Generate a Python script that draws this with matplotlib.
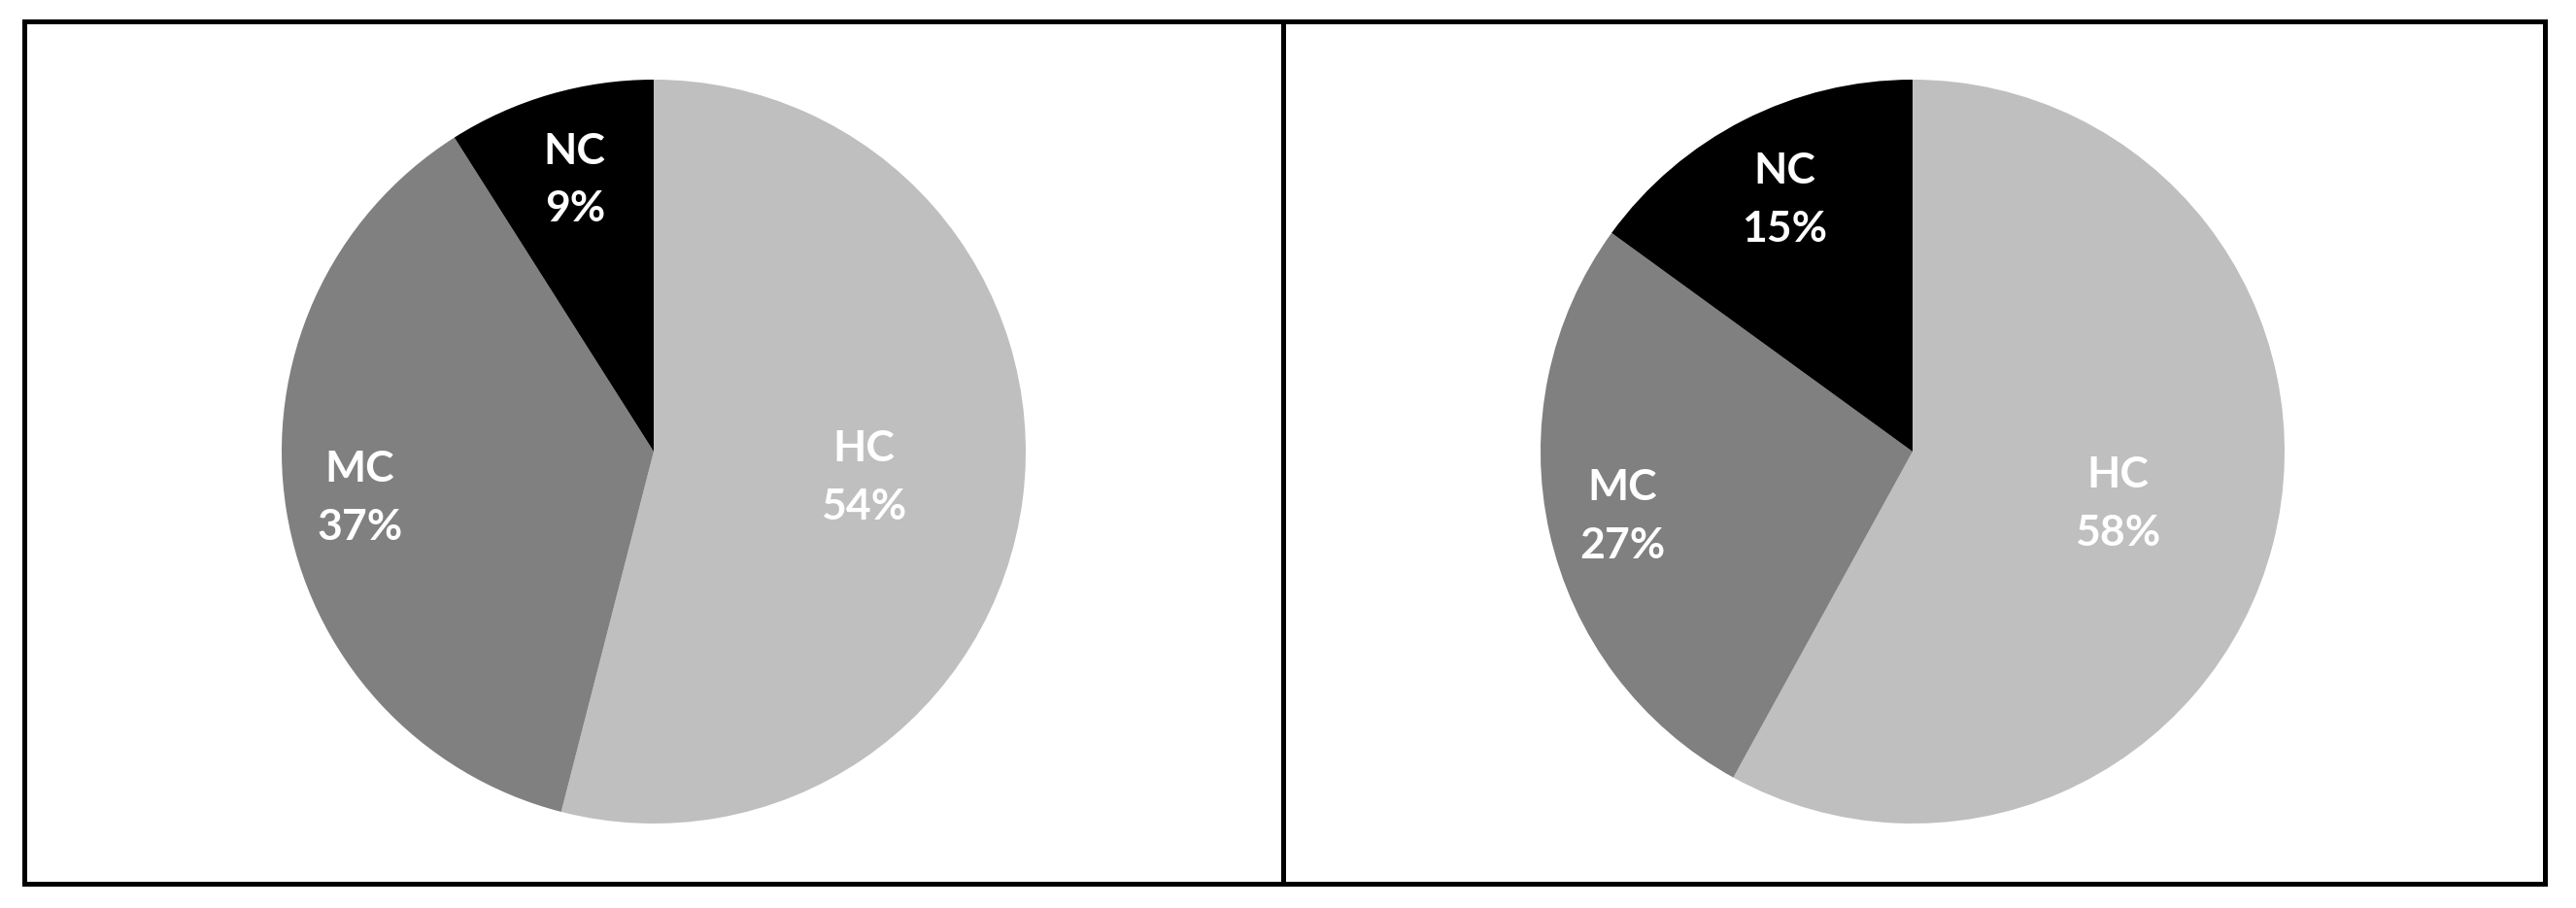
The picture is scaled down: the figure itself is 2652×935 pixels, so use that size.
import numpy as np
import matplotlib
matplotlib.use("Agg")
import matplotlib.pyplot as plt

labels = ["HC", "MC", "NC"]
left_pct = [54, 37, 9]
right_pct = [58, 27, 15]
colors = ["#BFBFBF", "#808080", "#000000"]
label_dist = [0.57, 0.80, 0.76]

W, H = 2652, 935
fig = plt.figure(figsize=(W / 100, H / 100), dpi=100)
fig.patch.set_facecolor("white")

# panel boxes in pixels: (left, bottom, width, height)
panels = [(25, 25.5, 1295.5, 888), (1320.5, 25.5, 1299, 888)]
centers = [(648, 444.5), (648.5, 444.5)]
radius = 383
font = ["Lato", "DejaVu Sans"]

for (px, py, pw, ph), (cx, cy), vals in zip(panels, centers, [left_pct, right_pct]):
    ax = fig.add_axes([px / W, py / H, pw / W, ph / H])
    wedges, _ = ax.pie(vals, colors=colors, startangle=90, counterclock=False,
                       center=(cx, cy), radius=radius, frame=True,
                       wedgeprops=dict(linewidth=0))
    for w, lab, v, d in zip(wedges, labels, vals, label_dist):
        ang = np.deg2rad((w.theta1 + w.theta2) / 2)
        ax.text(cx + d * radius * np.cos(ang), cy + d * radius * np.sin(ang),
                f"{lab}\n{v}%", ha="center", va="center", color="white",
                fontsize=32, fontweight="bold", family=font, linespacing=1.6)
    ax.set_xlim(0, pw)
    ax.set_ylim(0, ph)
    ax.set_aspect("auto")
    ax.set_xticks([])
    ax.set_yticks([])
    for s in ax.spines.values():
        s.set_linewidth(3.6)
        s.set_color("black")

fig.savefig("out.png", dpi=100, facecolor="white")
